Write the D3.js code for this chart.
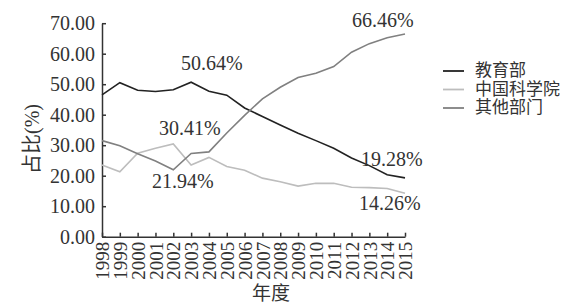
<!DOCTYPE html>
<html>
<head>
<meta charset="utf-8">
<script src="https://cdn.jsdelivr.net/npm/d3@7"></script>
<style>
  body { margin: 0; background: #fff; }
  text { font-family: "Liberation Serif", "Noto Sans CJK SC", serif; fill: #333; }
</style>
</head>
<body>
<div id="chart"></div>
<script>
// dados
const years = [1998, 1999, 2000, 2001, 2002, 2003, 2004, 2005, 2006, 2007, 2008, 2009, 2010, 2011, 2012, 2013, 2014, 2015];
const jiaoyubu = [46.5, 50.5, 48.0, 47.6, 48.2, 50.64, 47.7, 46.4, 42.2, 39.4, 36.6, 33.9, 31.5, 29.0, 25.8, 23.3, 20.3, 19.28];
const kexueyuan = [23.5, 21.3, 27.4, 29.0, 30.41, 23.5, 26.0, 23.0, 21.8, 19.2, 18.0, 16.6, 17.5, 17.5, 16.2, 16.1, 15.8, 14.26];
const qita = [31.5, 29.8, 27.2, 24.8, 21.94, 27.3, 27.8, 34.0, 39.8, 45.2, 49.0, 52.2, 53.6, 55.8, 60.5, 63.3, 65.2, 66.46];
const yTicks = [0, 10, 20, 30, 40, 50, 60, 70];
const seriesNames = ["教育部", "中国科学院", "其他部门"];
const seriesColors = ["#222", "#bdbdbd", "#808080"];

const annotations = [
  { text: "50.64%", x: 181, y: 70 },
  { text: "66.46%", x: 352, y: 27 },
  { text: "30.41%", x: 159, y: 135 },
  { text: "21.94%", x: 152, y: 188 },
  { text: "19.28%", x: 361, y: 166 },
  { text: "14.26%", x: 359, y: 210 }
];

const width = 574, height = 304;
const svg = d3.select("#chart").append("svg")
  .attr("width", width)
  .attr("height", height);

const x = d3.scalePoint().domain(years).range([102, 405]);
const y = d3.scaleLinear().domain([0, 70]).range([236.7, 23.2]);

// eixo Y
const yAxis = svg.append("g")
  .attr("transform", "translate(102,0)")
  .call(d3.axisLeft(y).tickValues(yTicks).tickFormat(d3.format(".2f"))
    .tickSizeInner(-4).tickSizeOuter(0).tickPadding(7));
yAxis.selectAll("text").style("font-size", "20px").attr("fill", "#333");

// eixo X
const xAxis = svg.append("g")
  .attr("transform", "translate(0,236.7)")
  .call(d3.axisBottom(x).tickSizeInner(-4).tickSizeOuter(0));
xAxis.selectAll("text")
  .style("font-size", "19px")
  .attr("fill", "#333")
  .attr("transform", "rotate(-90)")
  .attr("text-anchor", "end")
  .attr("x", -5)
  .attr("y", 0)
  .attr("dy", "0.35em");

svg.selectAll(".domain, .tick line").attr("stroke", "#333").attr("stroke-width", 1.5);

// linhas
const line = d3.line().x((d, i) => x(years[i])).y(d => y(d));
[jiaoyubu, kexueyuan, qita].forEach((s, i) => {
  svg.append("path")
    .datum(s)
    .attr("fill", "none")
    .attr("stroke", seriesColors[i])
    .attr("stroke-width", 1.6)
    .attr("d", line);
});

// rótulos
svg.selectAll(".ann")
  .data(annotations)
  .enter().append("text")
  .attr("class", "ann")
  .attr("x", d => d.x)
  .attr("y", d => d.y)
  .style("font-size", "20px")
  .text(d => d.text);

// títulos dos eixos
svg.append("text")
  .attr("transform", "translate(39,139) rotate(-90)")
  .attr("text-anchor", "middle")
  .style("font-size", "20px")
  .text("占比(%)");

svg.append("text")
  .attr("x", 271)
  .attr("y", 300)
  .attr("text-anchor", "middle")
  .style("font-size", "19px")
  .text("年度");

// legenda
const legend = svg.append("g").attr("transform", "translate(443,71)");
seriesNames.forEach((name, i) => {
  const g = legend.append("g").attr("transform", `translate(0,${i * 18.5})`);
  g.append("line")
    .attr("x1", 0).attr("x2", 21)
    .attr("stroke", seriesColors[i])
    .attr("stroke-width", 1.8);
  g.append("text")
    .attr("x", 32)
    .attr("y", 0)
    .attr("dy", "0.3em")
    .style("font-size", "17px")
    .text(name);
});
</script>
</body>
</html>
